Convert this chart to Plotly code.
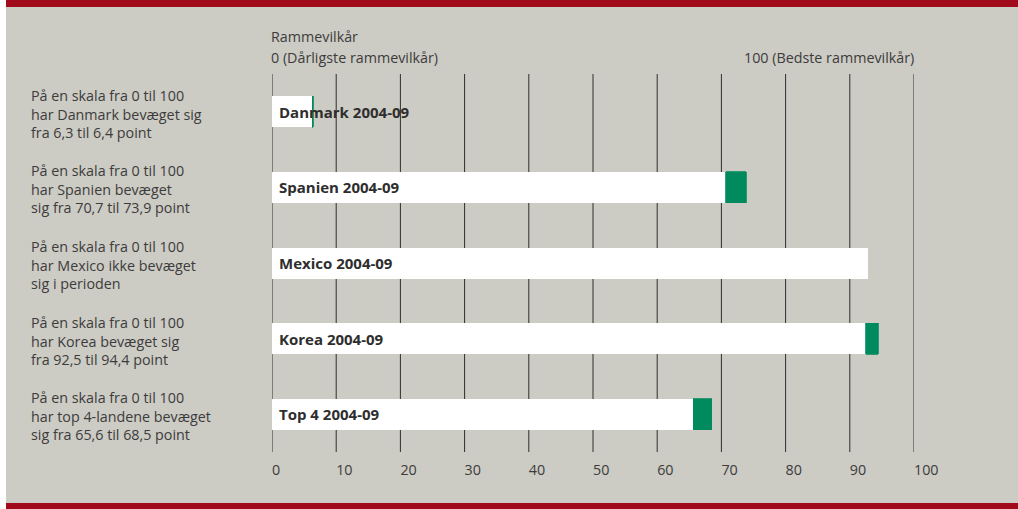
import plotly.graph_objects as go

categories = ["Danmark 2004-09", "Spanien 2004-09", "Mexico 2004-09", "Korea 2004-09", "Top 4 2004-09"]
start_vals = [6.3, 70.7, 92.9, 92.5, 65.6]
end_vals = [6.4, 73.9, 92.9, 94.4, 68.5]
left_texts = [
    "På en skala fra 0 til 100<br>har Danmark bevæget sig<br>fra 6,3 til 6,4 point",
    "På en skala fra 0 til 100<br>har Spanien bevæget<br>sig fra 70,7 til 73,9 point",
    "På en skala fra 0 til 100<br>har Mexico ikke bevæget<br>sig i perioden",
    "På en skala fra 0 til 100<br>har Korea bevæget sig<br>fra 92,5 til 94,4 point",
    "På en skala fra 0 til 100<br>har top 4-landene bevæget<br>sig fra 65,6 til 68,5 point",
]
tick_vals = [0, 10, 20, 30, 40, 50, 60, 70, 80, 90, 100]

W, H = 1018, 509
L, R, T, B = 272, 104, 74, 57
PW, PH = W - L - R, H - T - B

def px(x):
    return (x - L) / PW

def py(y):
    return (H - B - y) / PH

FONT = "Open Sans"
TXT = "#3c3c3c"
GREY = "#cccbc4"
RED = "#a00a1b"
GREEN = "#008a5e"
FS = 14.3

changes = [e - s for s, e in zip(start_vals, end_vals)]

fig = go.Figure()
fig.add_trace(go.Bar(
    y=categories, x=start_vals, orientation="h",
    marker=dict(color="white", line=dict(width=0)), width=0.41,
    hoverinfo="skip", showlegend=False,
))
fig.add_trace(go.Bar(
    y=categories, x=changes, base=start_vals,
    orientation="h",
    marker=dict(color=GREEN, line=dict(width=[0.8 if c > 0 else 0 for c in changes], color=GREEN)),
    width=0.41, hoverinfo="skip", showlegend=False,
))

annotations = []
for cat, txt in zip(categories, left_texts):
    annotations.append(dict(
        x=px(29), xref="paper", y=cat, yref="y", yshift=-2,
        text=txt, showarrow=False, xanchor="left", yanchor="middle", align="left",
        font=dict(family=FONT, size=FS, color=TXT),
    ))
    annotations.append(dict(
        x=0, xref="x", y=cat, yref="y", xshift=5,
        text="<b>" + cat + "</b>", showarrow=False, xanchor="left", yanchor="middle",
        font=dict(family=FONT, size=15, color="#2e2e2e"),
    ))

annotations += [
    dict(x=px(269), xref="paper", y=py(37), yref="paper", text="Rammevilkår",
         showarrow=False, xanchor="left", yanchor="middle",
         font=dict(family=FONT, size=FS, color=TXT)),
    dict(x=px(269), xref="paper", y=py(57), yref="paper", text="0 (Dårligste rammevilkår)",
         showarrow=False, xanchor="left", yanchor="middle",
         font=dict(family=FONT, size=FS, color=TXT)),
    dict(x=px(916), xref="paper", y=py(57), yref="paper", text="100 (Bedste rammevilkår)",
         showarrow=False, xanchor="right", yanchor="middle",
         font=dict(family=FONT, size=FS, color=TXT)),
]

shapes = [
    dict(type="rect", xref="paper", yref="paper", x0=px(0), x1=px(6), y0=py(0), y1=py(H),
         fillcolor="white", line=dict(width=0), layer="below"),
    dict(type="rect", xref="paper", yref="paper", x0=px(6), x1=px(W), y0=py(0), y1=py(7),
         fillcolor=RED, line=dict(width=0)),
    dict(type="rect", xref="paper", yref="paper", x0=px(6), x1=px(W), y0=py(503), y1=py(H),
         fillcolor=RED, line=dict(width=0)),
]
for v in tick_vals:
    shapes.append(dict(type="line", xref="x", yref="paper", x0=v, x1=v, y0=0, y1=1,
                       line=dict(color="#2e2e2e", width=1), layer="below"))

fig.update_layout(
    width=W, height=H,
    margin=dict(l=L, r=R, t=T, b=B, pad=0),
    paper_bgcolor=GREY, plot_bgcolor=GREY,
    barmode="stack", bargap=0.59,
    annotations=annotations, shapes=shapes,
    xaxis=dict(
        range=[0, 100], tickvals=tick_vals, ticktext=[str(v) for v in tick_vals],
        showgrid=False, zeroline=False,
        showline=False, ticks="", ticklabelposition="outside right",
        tickfont=dict(family=FONT, size=FS, color=TXT), ticklabelstandoff=8,
        fixedrange=True,
    ),
    yaxis=dict(
        autorange="reversed", showticklabels=False, showgrid=False, zeroline=False,
        showline=False, ticks="", fixedrange=True,
    ),
    font=dict(family=FONT),
)

fig.write_html("out.html", config={"displayModeBar": False},
               post_script="document.body.style.margin='0';document.body.style.padding='0';")
